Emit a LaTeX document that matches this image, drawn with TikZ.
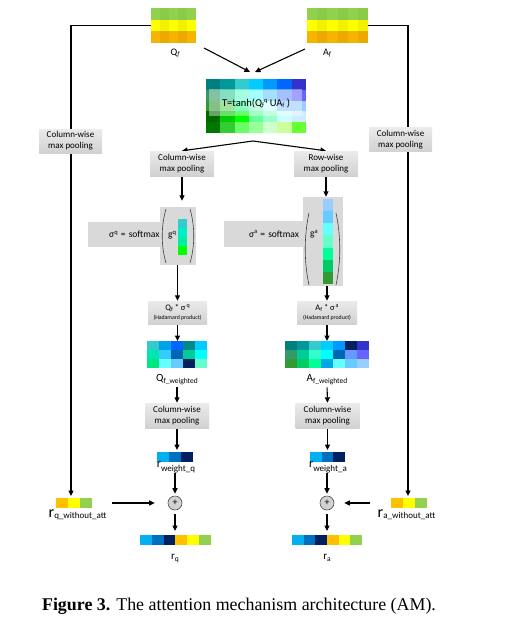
\documentclass[tikz,border=0pt]{standalone}
\usepackage{fontspec}
\setmainfont{Carlito}
\newfontfamily\capfont{Liberation Serif}
\usetikzlibrary{arrows.meta,backgrounds}
\newcommand\cellrow[5]{\foreach \cc [count=\ii from 0] in {#5}{\definecolor{tmpc}{HTML}{\cc}\fill[tmpc] ({#1+\ii*#3},{#2}) rectangle ++(#3,#4);}}
\newcommand\cellcol[5]{\foreach \cc [count=\ii from 0] in {#5}{\definecolor{tmpc}{HTML}{\cc}\fill[tmpc] ({#1},{#2+\ii*#4}) rectangle ++(#3,#4);}}
\newcommand\fs[1]{\fontsize{#1}{#1}\selectfont}
\newcommand\lowr[2]{\raisebox{-#1}{#2}}
\begin{document}
\begin{tikzpicture}[x=1pt,y=-1pt,
  arr/.style={-{Triangle[length=5.5pt,width=5pt]},line width=1.1pt},
  pool/.style={top color=gray!16,bottom color=gray!36,align=center,inner sep=0pt,font=\fontsize{9}{11}\selectfont},
  gbox/.style={fill=gray!30,inner sep=0pt},
  mat/.style={inner sep=0pt,outer sep=0pt},
  lab/.style={inner sep=0pt,font=\fs{9}},
  paren/.style={line width=0.6pt,draw=black!75},
  plus/.style={circle,draw=black!70,fill=gray!35,line width=0.6pt,minimum size=14pt,inner sep=0pt,font=\fs{10}}
]
\begin{scope}[on background layer]
\fill[white] (0,0) rectangle (523,634);
\end{scope}
\useasboundingbox (0,0) rectangle (523,634);

% ---------- Q_f and A_f ----------
\cellrow{151}{8}{9}{11.7}{92D050,8CCB48,92D050,8CCB48,92D050}
\cellrow{151}{19.7}{9}{11.7}{FFFF00,F2F200,FFFF00,F2F200,FFFF00}
\cellrow{151}{31.4}{9}{11.6}{F5B400,EAAA00,F5B400,EAAA00,F5B400}
\node[mat,minimum width=45pt,minimum height=35pt] (Q) at (173.5,25.5) {};
\cellrow{307}{8}{10.17}{11.7}{92D050,8CCB48,92D050,8CCB48,92D050,8CCB48}
\cellrow{307}{19.7}{10.17}{11.7}{FFFF00,F2F200,FFFF00,F2F200,FFFF00,F2F200}
\cellrow{307}{31.4}{10.17}{11.6}{F5B400,EAAA00,F5B400,EAAA00,F5B400,EAAA00}
\node[mat,minimum width=61pt,minimum height=35pt] (A) at (337.5,25.5) {};
\node[lab] (Ql) at (175,53) {\fs{10}Q\lowr{1.5pt}{\fs{7}\itshape f}};
\node[lab] (Al) at (327,53) {\fs{10}A\lowr{1.5pt}{\fs{7}\itshape f}};

% ---------- T ----------
\cellrow{206}{79}{14.286}{10.8}{007F7F,009999,33CCCC,00CCFF,0099FF,0066FF,3333CC}
\cellrow{206}{89.8}{14.286}{10.8}{339966,33CC99,66FFCC,66FFFF,66CCFF,6699FF,6666FF}
\cellrow{206}{100.6}{14.286}{10.8}{339933,66CC66,33FF99,99FFCC,CCFFFF,99CCFF,99CCFF}
\cellrow{206}{111.4}{14.286}{10.8}{006600,00CC00,00FF00,66FF99,99FFCC,CCFFFF,CCEEFF}
\cellrow{206}{122.2}{14.286}{10.8}{007700,33CC33,66FF66,99FF99,CCFFCC,CCFF99,66FF33}
\fill[white,opacity=0.4] (209,89) rectangle (302,116);
\node[mat,minimum width=100pt,minimum height=54pt] (T) at (256,106) {};
\node[lab,font=\fs{10.5}] (Tt) at (256,103) {T=tanh(Q\lowr{1.5pt}{\fs{6.5}f}\raisebox{3.5pt}{\fs{6.5}q} UA\lowr{1.5pt}{\fs{6.5}f} )};

% ---------- pooling boxes ----------
\node[pool,minimum width=63pt,minimum height=24pt] (Lp) at (70.5,141) {Column-wise\\max pooling};
\node[pool,minimum width=63pt,minimum height=24pt] (Rp) at (400.5,139.5) {Column-wise\\max pooling};
\node[pool,minimum width=64pt,minimum height=25pt] (Cp) at (182,163.5) {Column-wise\\max pooling};
\node[pool,minimum width=64pt,minimum height=25pt] (Rw) at (326,163.5) {Row-wise\\max pooling};

% ---------- sigma q ----------
\node[gbox,minimum width=72pt,minimum height=25pt,text width=71pt,align=right,inner xsep=0.5pt,font=\fs{9.5}] (Sql) at (124,234.5) {σ\raisebox{3.5pt}{\fs{6.5}q} = softmax};
\node[gbox,minimum width=36pt,minimum height=58pt] (Sq) at (178,236) {};
\draw[paren] (166,209) .. controls (161,226) and (161,246) .. (166,263);
\draw[paren] (190,209) .. controls (195,226) and (195,246) .. (190,263);
\node[lab] (gq) at (172,235) {\fs{9.5}g\raisebox{3.5pt}{\fs{6.5}q}};
\cellcol{178}{219}{9}{9}{33CCCC,00EEC8,00F0A0,00FF00}
\node[mat,minimum width=9pt,minimum height=36pt] (vq) at (182.5,237) {};

% ---------- sigma a ----------
\node[gbox,minimum width=79pt,minimum height=26pt,text width=71pt,align=right,inner xsep=4pt,font=\fs{9.5}] (Sal) at (263.5,234) {σ\raisebox{3.5pt}{\fs{6.5}a} = softmax};
\node[gbox,minimum width=40pt,minimum height=89pt] (Sa) at (323,241.5) {};
\draw[paren] (309,213) .. controls (304,236) and (304,262) .. (309,285);
\draw[paren] (336,213) .. controls (341,236) and (341,262) .. (336,285);
\node[lab] (ga) at (314,234) {\fs{9.5}g\raisebox{3.5pt}{\fs{6.5}a}};
\cellcol{323}{199}{10}{12.14}{99CCFF,66CCFF,66FFFF,66FFCC,00FF99,00CC66,339933}
\node[mat,minimum width=10pt,minimum height=85pt] (va) at (328,241.5) {};

% ---------- Hadamard ----------
\node[pool,minimum width=59pt,minimum height=23pt,font=\fontsize{8.5}{9.5}\selectfont] (Hq) at (177.5,312.5) {Q\lowr{1pt}{\fs{6}f} * σ\raisebox{3pt}{\fs{6}\,q}\\{\fs{5.8}(Hadamard product)}};
\node[pool,minimum width=60pt,minimum height=23pt,font=\fontsize{8.5}{9.5}\selectfont] (Ha) at (327,312.5) {A\lowr{1pt}{\fs{6}f} * σ\raisebox{3pt}{\fs{6}\,a}\\{\fs{5.8}(Hadamard product)}};

% ---------- weighted matrices ----------
\cellrow{147}{341}{12}{9}{33CCCC,00A3E8,0066FF,008B8B,00CCFF}
\cellrow{147}{350}{12}{9}{00E6B0,33CCFF,0066B3,00CC99,00FFFF}
\cellrow{147}{359}{12}{9}{00E680,66FFFF,66CCFF,002060,66FFCC}
\node[mat,minimum width=60pt,minimum height=27pt] (Wq) at (177,354.5) {};
\cellrow{285}{341}{12}{9}{007F7F,009999,33CCCC,00CCFF,0099FF,002060,3333CC}
\cellrow{285}{350}{12}{9}{339966,00CC99,33FFCC,00FFFF,0066B3,6699FF,6666FF}
\cellrow{285}{359}{12}{9}{339933,00CC66,00FF99,00A8E6,66FFFF,66CCFF,99CCFF}
\node[mat,minimum width=84pt,minimum height=27pt] (Wa) at (327,354.5) {};
\node[lab] (Wql) at (177,380) {\fs{11}Q\lowr{2pt}{\fs{7.5}f\_weighted}};
\node[lab] (Wal) at (327,380) {\fs{11}A\lowr{2pt}{\fs{7.5}f\_weighted}};

\node[pool,minimum width=64pt,minimum height=25pt] (Cq2) at (177,415.5) {Column-wise\\max pooling};
\node[pool,minimum width=64pt,minimum height=25pt] (Ca2) at (327.5,415.5) {Column-wise\\max pooling};

% ---------- r_weight ----------
\cellrow{157}{452}{12}{10}{00B0F0,0070C0,002060}
\node[mat,minimum width=36pt,minimum height=10pt] (Vwq) at (175,457) {};
\cellrow{310}{452}{11.7}{10}{00B0F0,0070C0,002060}
\node[mat,minimum width=35pt,minimum height=10pt] (Vwa) at (327.5,457) {};
\node[lab,anchor=north] (Lwq) at (176,461.5) {\fs{12}r\lowr{3.5pt}{\fs{9}weight\_q}};
\node[lab,anchor=north] (Lwa) at (328,461.5) {\fs{12}r\lowr{3.5pt}{\fs{9}weight\_a}};

\node[plus] (Pq) at (175,503) {+};
\node[plus] (Pa) at (327,503) {+};

% ---------- r without att ----------
\cellrow{56}{498}{12}{10}{FFC000,FFFF00,92D050}
\node[mat,minimum width=36pt,minimum height=10pt] (Vqw) at (74,503) {};
\cellrow{391}{498}{12}{10}{FFC000,FFFF00,92D050}
\node[mat,minimum width=36pt,minimum height=10pt] (Vaw) at (409,503) {};
\node[lab,anchor=north west] (Lqw) at (48.5,509.5) {\fs{16}r\lowr{1pt}{\fs{9}q\_without\_att}};
\node[lab,anchor=north west] (Law) at (377.5,509.5) {\fs{16}r\lowr{1pt}{\fs{9}a\_without\_att}};

% ---------- outputs ----------
\cellrow{140}{535}{11.83}{10}{00B0F0,0070C0,002060,FFC000,FFFF00,92D050}
\node[mat,minimum width=71pt,minimum height=10pt] (Vq) at (175.5,540) {};
\cellrow{292}{535}{11.67}{10}{00B0F0,0070C0,002060,FFC000,FFFF00,92D050}
\node[mat,minimum width=70pt,minimum height=10pt] (Va) at (327,540) {};
\node[lab] (Lq) at (175,558) {\fs{11}r\lowr{2pt}{\fs{7.5}q}};
\node[lab] (La) at (327,558) {\fs{11}r\lowr{2pt}{\fs{7.5}a}};

% ---------- caption ----------
\node[inner sep=0pt,font=\capfont\fontsize{17.9}{20}\selectfont] (cap) at (239,606) {\textbf{Figure 3.} The attention mechanism architecture (AM).};

% ---------- connectors ----------
\begin{scope}[on background layer]
\draw[arr,shorten >=2pt] (Q.west) -| ([xshift=-3pt]Vqw.north);
\draw[arr,shorten >=2pt] (A.east) -| ([xshift=-1pt]Vaw.north);
\draw[arr] ([xshift=8pt,yshift=-5pt]Q.south east) -- ([xshift=-6pt,yshift=7pt]T.north);
\draw[arr] ([xshift=-2pt,yshift=-6pt]A.south west) -- ([xshift=-1pt,yshift=7pt]T.north);
\coordinate (sp) at (253,141);
\draw[arr] (sp) -- (Cp.north);
\draw[arr] (sp) -- (Rw.north);
\draw[arr,shorten >=6pt] (Cp.south) -- (Cp.south |- Sq.north);
\draw[arr] (Rw.south) -- (Rw.south |- Sa.north);
\draw[arr] (Sq.south -| Hq.north) -- (Hq.north);
\draw[arr] (Sa.south -| Ha.north) -- (Ha.north);
\draw[arr] (Hq.south) -- (Hq.south |- Wq.north);
\draw[arr] (Ha.south) -- (Ha.south |- Wa.north);
\draw[arr,shorten <=2pt] (Wql.south) -- (Cq2.north);
\draw[arr,shorten <=2pt] (Wal.south) -- (Ca2.north);
\draw[arr,shorten >=2pt] (Cq2.south) -- (Cq2.south |- Vwq.north);
\draw[arr,shorten >=2pt] (Ca2.south) -- (Ca2.south |- Vwa.north);
\draw[arr,shorten >=2pt] (Lwq.south -| Pq.north) -- (Pq.north);
\draw[arr,shorten >=2pt] (Lwa.south -| Pa.north) -- (Pa.north);
\draw[arr,shorten <=4pt,shorten >=4pt] (Pq.south) -- (Pq.south |- Vq.north);
\draw[arr,shorten <=4pt,shorten >=4pt] (Pa.south) -- (Pa.south |- Va.north);
\draw[arr] ([xshift=20pt]Vqw.east) -- ([xshift=-13pt]Pq.west);
\draw[arr] ([xshift=-21pt]Vaw.west) -- ([xshift=10pt]Pa.east);
\end{scope}
\end{tikzpicture}
\end{document}
